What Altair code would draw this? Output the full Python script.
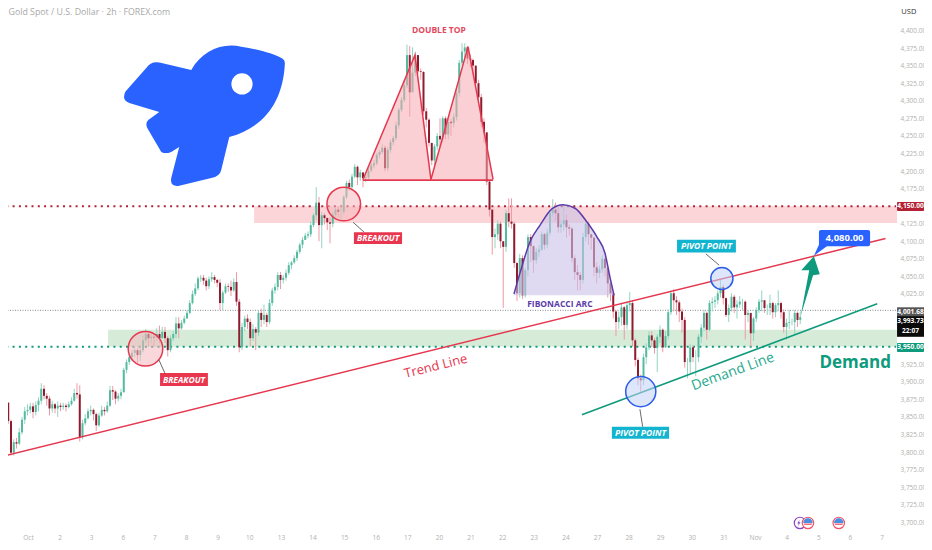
import altair as alt
import pandas as pd

closes = [
3856,3863,3870,3844,3799,3814,3812,3828,3846,3858,
3860,3865,3857,3867,3873,3890,3880,3876,3862,3868,
3862,3866,3864,3866,3864,3868,3873,3884,3882,3821,
3841,3848,3858,3860,3854,3838,3852,3860,3858,3866,
3888,3886,3876,3880,3885,3917,3928,3935,3941,3945,
3938,3945,3959,3968,3962,3964,3963,3968,3962,3971,
3962,3945,3962,3968,3983,3976,3984,3990,3998,4012,
4025,4033,4047,4048,4044,4036,4046,4049,4045,4041,
4012,4027,4036,4035,4030,4042,4014,3949,3978,3990,
3985,3962,3975,3970,3998,3988,3995,3985,4012,4030,
4035,4052,4045,4048,4055,4066,4070,4076,4085,4095,
4102,4108,4110,4123,4137,4155,4123,4137,4133,4127,
4125,4138,4145,4142,4142,4163,4183,4177,4192,4206,
4191,4198,4190,4191,4201,4208,4211,4223,4227,4233,
4204,4230,4241,4247,4265,4287,4301,4322,4365,4312,
4340,4365,4342,4341,4285,4273,4240,4215,4235,4250,
4245,4275,4252,4270,4268,4277,4311,4354,4370,4376,
4360,4358,4350,4325,4305,4270,4255,4185,4145,4106,
4110,4125,4100,4092,4140,4128,4125,4069,4026,4076,
4023,4059,4106,4093,4073,4085,4088,4110,4095,4112,
4140,4145,4140,4120,4124,4130,4120,4118,4076,4056,
4052,4045,4106,4125,4110,4105,4063,4055,4060,4075,
4062,4040,4026,4000,3985,3992,4006,3981,4009,4012,
3959,3931,3905,3902,3935,3949,3966,3959,3948,3964,
3974,3949,3965,3999,4026,4016,4013,4000,3988,3928,
3928,3949,3935,3935,3964,3977,3998,3974,4012,4014,
4016,4026,4035,4019,3995,4005,4021,4006,4010,4014,
4014,3995,3998,3969,3990,4002,4014,4016,4005,4005,
4012,3999,4009,4012,3999,3978,3984,3985,3985,3998,
3988,3992]

highs = [
3870,3870,3875,3871,3846,3818,3820,3834,3850,3864,
3868,3870,3870,3872,3878,3898,3895,3884,3880,3873,
3870,3872,3870,3870,3869,3872,3878,3890,3898,3895,
3846,3854,3862,3866,3862,3856,3856,3866,3864,3872,
3894,3894,3888,3884,3890,3920,3932,3938,3946,3950,
3948,3952,3966,3975,3970,3970,3968,3976,3980,3978,
3978,3965,3966,3972,3992,3992,3988,3994,4002,4016,
4030,4040,4050,4052,4052,4048,4050,4056,4052,4046,
4046,4030,4040,4040,4044,4047,4056,4018,3984,3994,
3996,3990,3982,3978,4002,4004,4010,3998,4018,4034,
4040,4056,4056,4052,4060,4070,4072,4080,4088,4098,
4106,4112,4114,4128,4140,4177,4163,4142,4140,4134,
4134,4142,4148,4150,4150,4166,4186,4188,4196,4210,
4208,4202,4198,4196,4204,4212,4216,4226,4230,4238,
4236,4234,4245,4250,4270,4290,4305,4330,4380,4378,
4376,4370,4365,4346,4342,4290,4275,4240,4238,4254,
4275,4278,4278,4276,4274,4282,4316,4358,4382,4382,
4378,4366,4360,4350,4330,4310,4275,4255,4186,4146,
4118,4130,4128,4100,4145,4161,4161,4128,4070,4082,
4080,4062,4110,4110,4094,4090,4094,4114,4112,4118,
4145,4160,4155,4148,4130,4152,4138,4124,4120,4080,
4066,4056,4112,4130,4128,4110,4106,4070,4066,4080,
4078,4064,4045,4026,4002,4000,4012,4008,4014,4028,
4016,3962,3934,3910,3940,3955,3972,3972,3962,3968,
3980,3976,3972,4003,4030,4032,4022,4016,4004,3992,
3934,3954,3952,3945,3968,3982,4002,4000,4016,4020,
4022,4030,4045,4038,4020,4010,4026,4024,4016,4022,
4018,4016,4002,3998,3992,4006,4018,4030,4016,4010,
4024,4014,4012,4030,4014,4003,3990,4002,3990,4002,
4000,4000]

lows = [
3845,3852,3860,3840,3795,3795,3805,3810,3825,3840,
3852,3855,3848,3852,3858,3868,3875,3866,3852,3856,
3855,3850,3858,3860,3858,3862,3866,3872,3876,3815,
3818,3838,3846,3852,3845,3830,3836,3850,3852,3856,
3864,3874,3868,3872,3875,3885,3912,3924,3930,3935,
3926,3930,3942,3955,3950,3955,3950,3958,3955,3962,
3955,3936,3942,3958,3962,3962,3974,3982,3990,3996,
4010,4022,4030,4042,4038,4030,4032,4042,4040,4035,
4002,4002,4025,4028,4022,4028,4008,3942,3945,3972,
3975,3950,3958,3945,3965,3978,3982,3978,3982,4008,
4025,4030,4032,4040,4044,4052,4060,4068,4072,4082,
4090,4102,4104,4106,4120,4130,4100,4090,4124,4116,
4097,4120,4132,4134,4130,4138,4160,4172,4172,4190,
4180,4186,4177,4184,4188,4198,4204,4208,4218,4224,
4200,4200,4226,4236,4244,4260,4284,4298,4318,4277,
4330,4335,4338,4330,4280,4262,4235,4208,4208,4230,
4235,4240,4245,4245,4250,4262,4272,4306,4350,4360,
4352,4348,4338,4320,4298,4262,4240,4180,4135,4081,
4090,4102,4090,4005,4085,4120,4118,4062,4015,4020,
4018,4020,4050,4070,4055,4068,4078,4086,4088,4090,
4108,4135,4130,4112,4112,4115,4105,4108,4070,4045,
4030,4030,4040,4100,4095,4088,4050,4040,4048,4055,
4050,4020,4015,3990,3965,3975,3980,3960,3975,4000,
3950,3922,3895,3886,3895,3925,3945,3950,3940,3914,
3955,3942,3948,3960,3995,4000,3995,3985,3970,3920,
3905,3912,3928,3908,3928,3955,3972,3960,3972,4000,
4005,4010,4020,4010,3992,3985,4000,3998,3990,4005,
4002,3960,3985,3950,3958,3985,3998,4000,3998,3995,
3995,3990,3992,4000,3990,3970,3960,3975,3980,3967,
3978,3982]

day_labels = ["Oct","2","3","6","7","8","9","10","13","14","15","16","17","20",
              "21","22","23","24","27","28","29","30","31","Nov","4","5","6","7"]
price_ticks = list(range(3700, 4425, 25))

opens = [closes[0]] + closes[:-1]
candles = pd.DataFrame({
    "bar": range(len(closes)), "open": opens, "close": closes,
    "high": [max(h, o, c) for h, o, c in zip(highs, opens, closes)],
    "low": [min(l, o, c) for l, o, c in zip(lows, opens, closes)],
})
candles["up"] = candles["close"] >= candles["open"]

xs = alt.Scale(domain=[2.909, 325.82], nice=False, zero=False)
ys = alt.Scale(domain=[3683.3, 4432.03], nice=False, zero=False)

FONT = "Open Sans"
GREEN, RED, DRED, BLUE, CYAN, PURPLE = "#0e9a7c", "#e5384f", "#b22234", "#2962ff", "#12b4cf", "#5b3ba8"
TICK = "#b0b0b0"

axis_x = alt.Axis(values=[10.18 + 11.495 * d for d in range(len(day_labels))],
                  labelExpr=f"{day_labels}[round((datum.value-10.18)/11.495)]",
                  domain=False, ticks=False, grid=False, labelColor=TICK, labelFontSize=6.5, labelFont=FONT,
                  labelPadding=0, labelOverlap=False, labelFlush=False, title=None, orient="bottom")
axis_y = alt.Axis(values=price_ticks, format=",.2f", orient="right", domain=False, ticks=False, grid=False,
                  labelColor=TICK, labelFontSize=6.5, labelFont=FONT, labelPadding=4, labelOverlap=False, title=None)


def X(f="bar"):
    return alt.X(f"{f}:Q", scale=xs, axis=axis_x, title=None)


def Y(f="price"):
    return alt.Y(f"{f}:Q", scale=ys, axis=axis_y, title=None)


def rects(rows, color, **kw):
    df = pd.DataFrame(rows, columns=["a", "b", "p1", "p2"])
    return alt.Chart(df).mark_rect(color=color, **kw).encode(x=X("a"), x2="b:Q", y=Y("p1"), y2="p2:Q")


def text(bar, price, label, color="white", size=6.6, weight="bold", style="normal", angle=0, font=FONT, align="center"):
    df = pd.DataFrame({"bar": [bar], "price": [price], "t": [label]})
    return alt.Chart(df).mark_text(color=color, fontSize=size, fontWeight=weight, fontStyle=style, angle=angle,
                                   font=font, align=align, baseline="middle").encode(x=X(), y=Y(), text="t:N")


def seg(a, pa, b, pb, color, width=1.0):
    df = pd.DataFrame({"a": [a], "b": [b], "p1": [pa], "p2": [pb]})
    return alt.Chart(df).mark_rule(color=color, strokeWidth=width).encode(x=X("a"), x2="b:Q", y=Y("p1"), y2="p2:Q")


def hline(price, color, dash, width):
    df = pd.DataFrame({"a": [0], "b": [326.2], "p": [price]})
    return alt.Chart(df).mark_rule(color=color, strokeDash=dash, strokeWidth=width, clip=True).encode(
        x=X("a"), x2="b:Q", y=Y("p"))


def symbol(bar, price, shape, size, color, **kw):
    df = pd.DataFrame({"bar": [bar], "price": [price]})
    return alt.Chart(df).mark_point(shape=shape, size=size, filled=True, fill=color, opacity=1, strokeWidth=0, **kw).encode(x=X(), y=Y())


def circle(bar, price, size, fill, stroke):
    df = pd.DataFrame({"bar": [bar], "price": [price]})
    return alt.Chart(df).mark_point(shape="circle", size=size, filled=True, fill=fill, fillOpacity=0.55, stroke=stroke,
                                    strokeWidth=1.5, opacity=1).encode(x=X(), y=Y())


def line(bars, prices, color, width=1.5, interpolate="linear"):
    df = pd.DataFrame({"bar": bars, "price": prices})
    return alt.Chart(df).mark_line(color=color, strokeWidth=width, interpolate=interpolate, clip=True).encode(x=X(), y=Y())


def area(bars, prices, base, color, opacity, interpolate="linear"):
    df = pd.DataFrame({"bar": bars, "price": prices, "base": base})
    return alt.Chart(df).mark_area(color=color, opacity=opacity, interpolate=interpolate).encode(x=X(), y=Y(), y2="base:Q")


wicks = alt.Chart(candles).mark_rule(strokeWidth=1, clip=True).encode(
    x=X(), y=Y("low"), y2="high:Q",
    color=alt.condition("datum.up", alt.value("#93d5c3"), alt.value("#ee9aa6")))
bodies = alt.Chart(candles).mark_rule(strokeWidth=2, clip=True).encode(
    x=X(), y=Y("open"), y2="close:Q",
    color=alt.condition("datum.up", alt.value("#55bb9f"), alt.value("#8e1b2e")))

ROCKET = ("M-0.176,-0.553 C-0.05,-0.78 0.2,-0.88 0.412,-0.824 C0.6,-0.8 0.8,-0.74 0.89,-0.69 Q0.93,-0.67 0.924,-0.612 "
          "C0.9,-0.2 0.7,0.12 0.271,0.235 L0.176,0.624 Q0.16,0.7 0.059,0.718 L-0.329,0.812 Q-0.43,0.82 -0.412,0.718 "
          "L-0.318,0.353 L-0.412,0.412 Q-0.48,0.44 -0.529,0.412 L-0.694,0.129 Q-0.72,0.07 -0.682,0.035 L-0.553,-0.059 "
          "L-0.906,-0.165 Q-1,-0.2 -0.95,-0.3 L-0.706,-0.576 Q-0.65,-0.66 -0.55,-0.64 Z")
ARROW = "M-0.29,0.94 L-0.02,-0.5 L-0.27,-0.5 L0.125,-0.94 L0.31,-0.375 L0.10,-0.34 Z"
POINTER = "M-0.67,0.5 L-0.17,-0.6 L0.83,-0.6 Z"
HALF = "M-1,0 A1,1 0 0 1 1,0 Z"
STRIPE = "M-0.9,0.1 L0.9,0.1 L0.75,0.45 L-0.75,0.45 Z"
BOLT = "M0.2,-1 L-0.5,0.15 L-0.05,0.15 L-0.25,1 L0.5,-0.2 L0.05,-0.2 Z"

ARC_BARS = [186.9, 189.1, 192.7, 196.4, 200.7, 204.7, 209.1, 213.5, 217.1, 220, 221.8, 223.3]
ARC_PRICES = [4025, 4055, 4099, 4123, 4146, 4152, 4147, 4127, 4106, 4083, 4049, 4023]
TAG_L, TAG_R, TAG_C = 326.2, 336.0, 331.1

layers = [
    rects([[92.4, 326.2, 4150, 4126]], "#fcd5d8"),
    rects([[39.3, 326.2, 3974, 3950]], "#d7ecd8"),
    hline(4150, DRED, [2, 4.3], 2),
    hline(3950, GREEN, [2, 4.3], 2),
    hline(4001.68, "#8a8a8a", [1, 1.5], 1),
    wicks, bodies,
    area([132, 150.9, 156.7], [4188, 4365, 4188], 4188, "#f7a9b2", 0.55),
    area([156.7, 170.2, 179.3], [4188, 4377, 4188], 4188, "#f7a9b2", 0.55),
    line([132, 150.9, 156.7], [4188, 4365, 4188], RED),
    line([156.7, 170.2, 179.3], [4188, 4377, 4188], RED),
    seg(132, 4187, 179.3, 4187, RED, 1.6),
    area(ARC_BARS, ARC_PRICES, 4023, "#c9c2e8", 0.6, "monotone"),
    line(ARC_BARS, ARC_PRICES, PURPLE, 1.5, "monotone"),
    line([0, 322], [3793, 4104], RED, 1.5),
    line([211.6, 319], [3853, 4011], GREEN, 1.5),
    circle(52.9, 3947, 1195, "#f4b6bc", RED),
    circle(125, 4153, 1134, "#f4b6bc", RED),
    circle(233, 3886, 908, "#c2d1f8", "#2b5de8"),
    circle(262.5, 4047, 490, "#c2d1f8", "#2b5de8"),
    seg(57.8, 3931, 60, 3912, "#444444", 0.8),
    seg(128.4, 4127, 132.4, 4113, "#444444", 0.8),
    seg(256.7, 4082, 261.5, 4066, "#444444", 0.8),
    seg(232.7, 3861, 233.7, 3836, "#444444", 0.8),
    rects([[58.2, 75.6, 3912.5, 3894], [128.7, 146.2, 4113, 4096]], "#e8364f"),
    text(66.9, 3903, "BREAKOUT", size=8.5, style="italic"),
    text(137.5, 4105, "BREAKOUT", size=8.5, style="italic"),
    rects([[246.2, 267.6, 4102, 4084], [222.5, 243.3, 3836, 3819]], CYAN),
    text(256.9, 4093, "PIVOT POINT", size=8.5, style="italic"),
    text(232.9, 3827.5, "PIVOT POINT", size=8.5, style="italic"),
    text(159.6, 4401, "DOUBLE TOP", color="#e04a5f", size=8.5),
    text(203.6, 4011, "FIBONACCI ARC", color=PURPLE, size=8.5),
    text(158.5, 3922, "Trend Line", color=RED, size=13, weight="normal", angle=346),
    text(266.5, 3914, "Demand Line", color="#1aa88a", size=14, weight="normal", angle=340),
    text(311, 3927, "Demand", color=GREEN, size=17, weight="bold"),
    symbol(75, 4277, ROCKET, 28900, BLUE),
    symbol(88, 4324, "circle", 452, "white"),
    symbol(294.5, 4036, ARROW, 4096, GREEN),
    symbol(298.9, 4088, POINTER, 576, BLUE),
    rects([[297.8, 316.4, 4116, 4093]], BLUE, cornerRadius=2),
    text(307.1, 4104.5, "4,080.00", size=9.5),
    rects([[TAG_L, TAG_R, 4156, 4143]], DRED, cornerRadius=1),
    text(TAG_C, 4149.5, "4,150.00"),
    rects([[TAG_L, TAG_R, 4006, 3993.5]], "#555555"),
    text(TAG_C, 3999.8, "4,001.68"),
    rects([[TAG_L, TAG_R, 3993.5, 3964]], "#0b0b0b"),
    text(TAG_C, 3986, "3,993.73"),
    text(TAG_C, 3972, "22:07"),
    rects([[TAG_L, TAG_R, 3955, 3942.5]], GREEN, cornerRadius=1),
    text(TAG_C, 3949, "3,950.00"),
    text(330.5, 4427, "USD", color="#333333", size=7.5, weight="normal"),
    text(3.1, 4427, "Gold Spot / U.S. Dollar · 2h · FOREX.com", color="#a9a9a9", size=8.8, weight="normal", align="left"),
    alt.Chart(pd.DataFrame({"bar": [290.9], "price": [3699]})).mark_point(
        shape="circle", size=130, filled=True, fill="white", stroke="#8e44c4", strokeWidth=1.2, opacity=1).encode(x=X(), y=Y()),
    symbol(290.5, 3699, BOLT, 40, "#8e44c4"),
]
for b in (293.8, 305):
    layers += [
        alt.Chart(pd.DataFrame({"bar": [b], "price": [3699]})).mark_point(
            shape="circle", size=130, filled=True, fill="white", stroke="#f0556a", strokeWidth=1.2, opacity=1).encode(x=X(), y=Y()),
        symbol(b, 3699, HALF, 90, "#4a90e2"),
        symbol(b, 3699, STRIPE, 90, "#ef6a7a"),
    ]

chart = alt.layer(*layers).properties(
    width=888, height=526,
    padding={"left": 0, "top": 0, "right": 28, "bottom": 8},
    autosize=alt.AutoSizeParams(type="none"),
    background="white",
).configure_view(stroke=None)

chart.save("out.html", embed_options={"renderer": "svg", "actions": False})
